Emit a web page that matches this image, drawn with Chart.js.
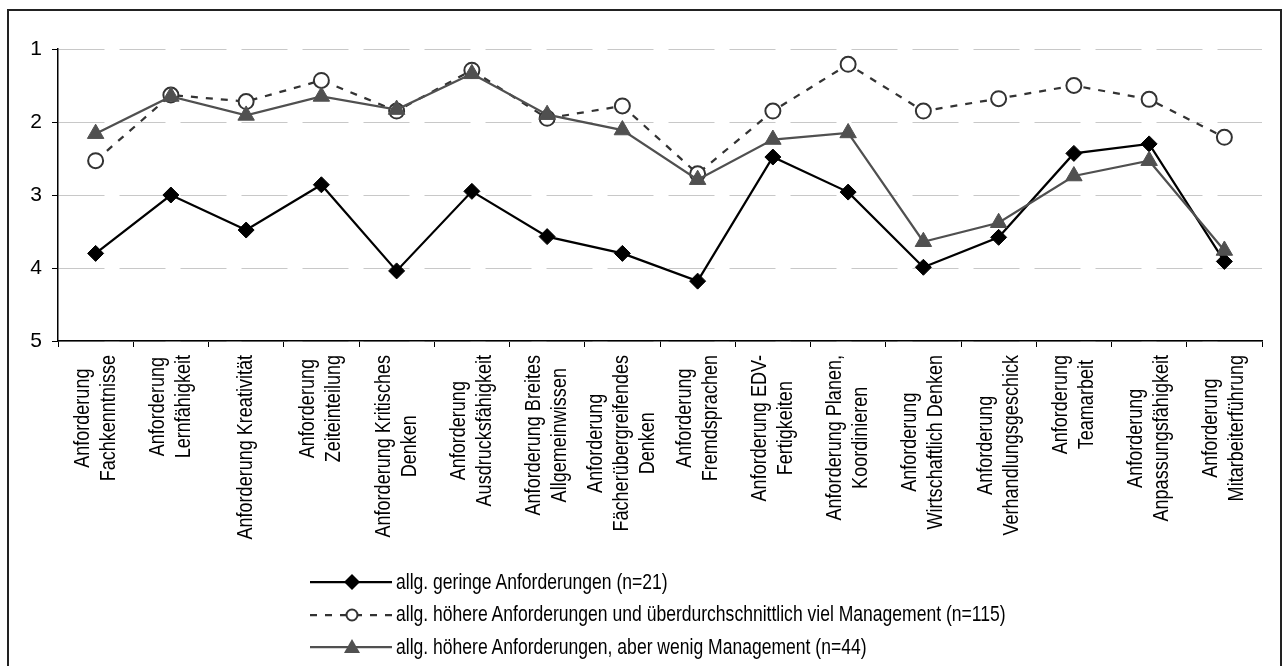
<!DOCTYPE html>
<html>
<head>
<meta charset="utf-8">
<script src="https://cdn.jsdelivr.net/npm/chart.js@4"></script>
<style>
  html, body { margin: 0; padding: 0; background: #fff; }
  body { width: 1288px; height: 666px; position: relative; overflow: hidden; }
  #frame { position: absolute; left: 7px; top: 9px; width: 1275px; height: 700px; box-sizing: border-box; border: 2px solid #222; }
  #chart { position: absolute; left: 0; top: 0; }
  #legend { position: absolute; left: 310px; top: 566px; color: #000; }
  .row { display: flex; align-items: center; height: 32.5px; white-space: nowrap; }
  .row svg { flex: none; }
  .row span { display: inline-block; margin-left: 4px; transform-origin: left center; }
</style>
</head>
<body>
<div id="frame"></div>
<canvas id="chart" width="1288" height="666"></canvas>
<div id="legend"></div>
<script>
// Kategorien (mehrzeilige Beschriftungen)
const categories = [
    ['Anforderung', 'Fachkenntnisse'],
    ['Anforderung', 'Lernfähigkeit'],
    ['Anforderung Kreativität'],
    ['Anforderung', 'Zeiteinteilung'],
    ['Anforderung Kritisches', 'Denken'],
    ['Anforderung', 'Ausdrucksfähigkeit'],
    ['Anforderung Breites', 'Allgemeinwissen'],
    ['Anforderung', 'Fächerübergreifendes', 'Denken'],
    ['Anforderung', 'Fremdsprachen'],
    ['Anforderung EDV-', 'Fertigkeiten'],
    ['Anforderung Planen,', 'Koordinieren'],
    ['Anforderung', 'Wirtschaftlich Denken'],
    ['Anforderung', 'Verhandlungsgeschick'],
    ['Anforderung', 'Teamarbeit'],
    ['Anforderung', 'Anpassungsfähigkeit'],
    ['Anforderung', 'Mitarbeiterführung']
];

const seriesNames = [
    'allg. geringe Anforderungen (n=21)',
    'allg. höhere Anforderungen und überdurchschnittlich viel Management (n=115)',
    'allg. höhere Anforderungen, aber wenig Management (n=44)'
];

const geringe = [3.80, 3.00, 3.48, 2.86, 4.04, 2.95, 3.57, 3.80, 4.18, 2.48, 2.96, 3.99, 3.58, 2.43, 2.30, 3.91];
const hoeherViel = [2.53, 1.63, 1.72, 1.43, 1.85, 1.29, 1.95, 1.78, 2.71, 1.85, 1.21, 1.85, 1.68, 1.50, 1.69, 2.21];
const hoeherWenig = [2.16, 1.65, 1.91, 1.65, 1.83, 1.34, 1.90, 2.11, 2.79, 2.24, 2.15, 3.64, 3.38, 2.74, 2.53, 3.76];

const yTicks = [1, 2, 3, 4, 5];

// Schmale Schrift vorhanden?
function hasFont(name) {
    const c = document.createElement('canvas').getContext('2d');
    c.font = '40px monospace';
    const a = c.measureText('Anforderung Wg').width;
    c.font = '40px "' + name + '", monospace';
    const b = c.measureText('Anforderung Wg').width;
    return a !== b;
}
const narrow = hasFont('Liberation Sans Narrow');
const family = narrow ? '"Liberation Sans Narrow", "Arial Narrow", sans-serif' : '"Liberation Sans", Arial, sans-serif';
const sx = narrow ? 1 : 0.82;
const fontSize = 21;
const xFontSize = 22;
const legendFontSize = 21.4;

// Stile der Reihen
const styles = [
    { color: '#000', width: 2.25, dash: [], point: 'rectRot', radius: 8, fill: '#000', pbw: 1 },
    { color: '#333', width: 2.25, dash: [7, 8], point: 'circle', radius: 7.5, fill: '#fff', pbw: 2 },
    { color: '#505050', width: 2.25, dash: [], point: 'triangle', radius: 9.5, fill: '#505050', pbw: 1 }
];
const seriesData = [geringe, hoeherViel, hoeherWenig];

// x-Beschriftungen: gedreht, Zeilen zentriert
const xLabelPlugin = {
    id: 'xLabels',
    afterDraw(chart) {
        const ctx = chart.ctx;
        const xs = chart.scales.x;
        ctx.save();
        ctx.fillStyle = '#000';
        ctx.font = xFontSize + 'px ' + family;
        ctx.textAlign = 'center';
        ctx.textBaseline = 'middle';
        chart.data.labels.forEach((lines, i) => {
            const x = xs.getPixelForValue(i);
            const maxW = Math.max(...lines.map(l => ctx.measureText(l).width));
            ctx.save();
            ctx.translate(x, xs.bottom + 8);
            ctx.rotate(-Math.PI / 2);
            ctx.scale(sx, 1);
            lines.forEach((l, j) => {
                const v = (j - (lines.length - 1) / 2) * 26;
                ctx.fillText(l, -maxW / 2, v);
            });
            ctx.restore();
        });
        ctx.restore();
    }
};

new Chart(document.getElementById('chart'), {
    type: 'line',
    data: {
        labels: categories,
        datasets: seriesData.map((d, i) => ({
            label: seriesNames[i],
            data: d,
            borderColor: styles[i].color,
            borderWidth: styles[i].width,
            borderDash: styles[i].dash,
            pointStyle: styles[i].point,
            pointRadius: styles[i].radius,
            pointHoverRadius: styles[i].radius,
            pointBackgroundColor: styles[i].fill,
            pointBorderColor: styles[i].color,
            pointBorderWidth: styles[i].pbw,
            tension: 0,
            order: 2 - i
        }))
    },
    options: {
        responsive: false,
        animation: false,
        devicePixelRatio: 1,
        layout: { padding: { left: 0, right: 26, top: 49, bottom: 319 } },
        plugins: { legend: { display: false }, tooltip: { enabled: false } },
        scales: {
            x: {
                offset: true,
                grid: { offset: true, drawOnChartArea: false, tickLength: 6, color: '#000', tickColor: '#000', tickBorderDash: [] },
                ticks: { display: false },
                border: { color: '#000', width: 1.5 }
            },
            y: {
                reverse: true,
                min: yTicks[0],
                max: yTicks[yTicks.length - 1],
                afterBuildTicks(scale) { scale.ticks = yTicks.map(v => ({ value: v })); },
                afterFit(scale) { scale.width = 58; },
                ticks: { color: '#000', padding: 10, font: { size: fontSize, family: family } },
                grid: { color: '#c8c8c8', lineWidth: 1, tickLength: 6, tickColor: '#000', tickBorderDash: [] },
                border: { color: '#000', width: 1.5, dash: [46, 15] }
            }
        }
    },
    plugins: [xLabelPlugin]
});

// Legende als HTML
const legend = document.getElementById('legend');
seriesNames.forEach((name, i) => {
    const s = styles[i];
    let marker = '';
    if (s.point === 'rectRot') marker = '<polygon points="42,2 50,10 42,18 34,10" fill="#000"/>';
    if (s.point === 'circle') marker = '<circle cx="42" cy="10" r="5.5" fill="#fff" stroke="' + s.color + '" stroke-width="2"/>';
    if (s.point === 'triangle') marker = '<polygon points="42,2 50,16 34,16" fill="' + s.fill + '"/>';
    const row = document.createElement('div');
    row.className = 'row';
    row.innerHTML =
        '<svg width="82" height="20"><line x1="0" y1="10" x2="82" y2="10" stroke="' + s.color +
        '" stroke-width="2.25" stroke-dasharray="' + (s.dash.length ? s.dash.join(' ') : 'none') + '"/>' + marker + '</svg>' +
        '<span style="font: ' + legendFontSize + 'px ' + family.replace(/"/g, "'") + '; transform: scaleX(' + sx + ')">' + name + '</span>';
    legend.appendChild(row);
});
</script>
</body>
</html>
